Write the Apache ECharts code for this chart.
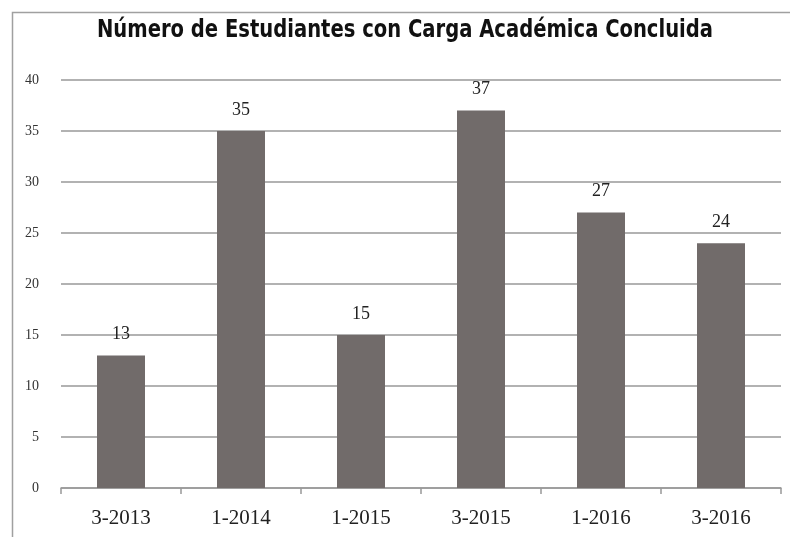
<!DOCTYPE html>
<html>
<head>
<meta charset="utf-8">
<script src="https://cdn.jsdelivr.net/npm/echarts@6/dist/echarts.min.js"></script>
<style>
  html, body { margin: 0; padding: 0; background: #fff; }
  #chart { width: 790px; height: 537px; }
</style>
</head>
<body>
<div id="chart"></div>
<script>
var titulo = 'Número de Estudiantes con Carga Académica Concluida';
var periodos = ['3-2013', '1-2014', '1-2015', '3-2015', '1-2016', '3-2016'];
var estudiantes = [13, 35, 15, 37, 27, 24];

var myChart = echarts.init(document.getElementById('chart'));

var option = {
    animation: false,
    backgroundColor: '#fff',
    graphic: [{
        type: 'rect',
        shape: { x: 12.5, y: 12.5, width: 800, height: 600 },
        style: { fill: 'none', stroke: '#a0a0a0', lineWidth: 1.5 },
        silent: true
    }, {
        // titulo comprimido a lo ancho, como la fuente original
        type: 'text',
        x: 405,
        y: 30,
        scaleX: 0.87,
        style: {
            text: titulo,
            x: 0,
            y: 0,
            align: 'center',
            verticalAlign: 'middle',
            font: 'bold 25px "DejaVu Sans Condensed"',
            fill: '#111'
        },
        silent: true
    }],
    grid: { left: 61, right: 9, top: 80, bottom: 49 },
    xAxis: {
        type: 'category',
        data: periodos,
        axisLine: { lineStyle: { color: '#999', width: 1.5 } },
        axisTick: { show: true, length: 6, lineStyle: { color: '#999', width: 1.5 } },
        axisLabel: {
            fontFamily: 'Liberation Serif',
            fontSize: 21,
            color: '#222',
            margin: 20
        }
    },
    yAxis: {
        type: 'value',
        min: 0,
        max: 40,
        interval: 5,
        axisLine: { show: false },
        axisTick: { show: false },
        axisLabel: {
            fontFamily: 'Liberation Serif',
            fontSize: 14,
            color: '#333',
            margin: 22
        },
        splitLine: { lineStyle: { color: '#999', width: 1.5 } }
    },
    series: [{
        type: 'bar',
        data: estudiantes,
        barWidth: '40%',
        itemStyle: { color: '#716b6a' },
        label: {
            show: true,
            position: 'top',
            distance: 12,
            fontFamily: 'Liberation Serif',
            fontSize: 18,
            color: '#222'
        }
    }]
};

myChart.setOption(option);
</script>
</body>
</html>
